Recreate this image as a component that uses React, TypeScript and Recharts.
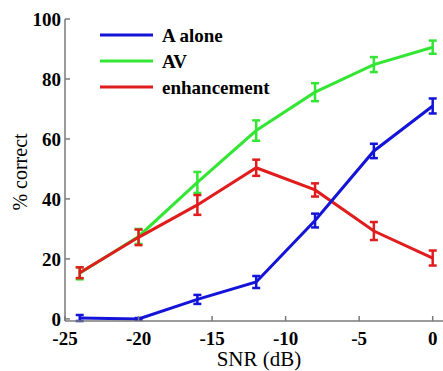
import { LineChart, Line, XAxis, YAxis, ErrorBar } from 'recharts';

const snr = [-24, -20, -16, -12, -8, -4, 0];
const aAlone = [0.3, 0, 6.5, 12.3, 32.8, 56, 71];
const aAloneErr = [1, 0.3, 1.5, 2, 2.3, 2.4, 2.5];
const av = [15.2, 27.5, 45.5, 62.8, 75.6, 84.8, 90.6];
const avErr = [2, 2.5, 3.5, 3.4, 3, 2.5, 2.2];
const enhancement = [15.4, 27.2, 38, 50.4, 43, 29.3, 20.3];
const enhErr = [1.8, 2.6, 3.3, 2.7, 2.2, 3, 2.5];

const xTicks = [-25, -20, -15, -10, -5, 0];
const yTicks = [0, 20, 40, 60, 80, 100];

const series = [
  { key: 'aAlone', name: 'A alone', color: '#1414d8' },
  { key: 'av', name: 'AV', color: '#33e633' },
  { key: 'enh', name: 'enhancement', color: '#e01c1c' },
];

const data = snr.map((x, i) => ({
  snr: x,
  aAlone: aAlone[i],
  aAloneErr: aAloneErr[i],
  av: av[i],
  avErr: avErr[i],
  enh: enhancement[i],
  enhErr: enhErr[i],
}));

const FONT = "'Liberation Serif', 'Times New Roman', serif";
const AXIS = '#7a7a7a';
const bold = { fontFamily: FONT, fontWeight: 700 };

// ticks point inward, like the original
const XTick = ({ x, y, payload }: any) => (
  <g>
    <line x1={x} x2={x} y1={y} y2={y - 5} stroke={AXIS} strokeWidth={1.5} />
    <text x={x} y={y} dy={24} textAnchor="middle" style={bold} fontSize={19} fill="#000">
      {payload.value}
    </text>
  </g>
);

const YTick = ({ x, y, payload }: any) => (
  <g>
    <line x1={x + 4} x2={x + 9} y1={y} y2={y} stroke={AXIS} strokeWidth={1.5} />
    <text x={x} y={y} dy={7} textAnchor="end" style={bold} fontSize={19} fill="#000">
      {payload.value}
    </text>
  </g>
);

const yLabel = () => (
  <text
    x={20}
    y={172}
    transform="rotate(-90, 20, 172)"
    textAnchor="middle"
    dominantBaseline="central"
    style={{ fontFamily: FONT }}
    fontSize={20}
    fill="#000"
  >
    % correct
  </text>
);

const xLabel = () => (
  <text x={259} y={366} textAnchor="middle" style={{ fontFamily: FONT }} fontSize={21} fill="#000">
    SNR (dB)
  </text>
);

export default function App() {
  return (
    <div style={{ position: 'absolute', left: 0, top: 0, width: 443, height: 371, background: '#fff' }}>
      <LineChart width={443} height={371} data={data} margin={{ top: 19, right: 0, left: 15, bottom: 5 }}>
        <XAxis
          dataKey="snr"
          type="number"
          domain={[-25, 0.7]}
          ticks={xTicks}
          tick={<XTick />}
          tickLine={false}
          tickSize={0}
          tickMargin={0}
          height={45}
          stroke={AXIS}
          strokeWidth={1.5}
          label={xLabel}
        />
        <YAxis
          type="number"
          domain={[0, 100]}
          ticks={yTicks}
          tick={<YTick />}
          tickLine={false}
          tickSize={0}
          tickMargin={4}
          width={50}
          stroke={AXIS}
          strokeWidth={1.5}
          label={yLabel}
        />
        <Line dataKey="av" name="AV" type="linear" stroke="#33e633" strokeWidth={3} dot={false} isAnimationActive={false}>
          <ErrorBar dataKey="avErr" direction="y" width={4} stroke="#33e633" strokeWidth={2.5} />
        </Line>
        <Line dataKey="enh" name="enhancement" type="linear" stroke="#e01c1c" strokeWidth={3} dot={false} isAnimationActive={false}>
          <ErrorBar dataKey="enhErr" direction="y" width={4} stroke="#e01c1c" strokeWidth={2.5} />
        </Line>
        <Line dataKey="aAlone" name="A alone" type="linear" stroke="#1414d8" strokeWidth={3} dot={false} isAnimationActive={false}>
          <ErrorBar dataKey="aAloneErr" direction="y" width={4} stroke="#1414d8" strokeWidth={2.5} />
        </Line>
      </LineChart>
      <svg width={300} height={110} style={{ position: 'absolute', left: 0, top: 0 }}>
        {series.map((s, i) => (
          <g key={s.key}>
            <line x1={100} x2={153} y1={35 + i * 26} y2={35 + i * 26} stroke={s.color} strokeWidth={3} />
            <text x={162} y={42 + i * 26} style={bold} fontSize={19} fill="#000">
              {s.name}
            </text>
          </g>
        ))}
      </svg>
    </div>
  );
}
